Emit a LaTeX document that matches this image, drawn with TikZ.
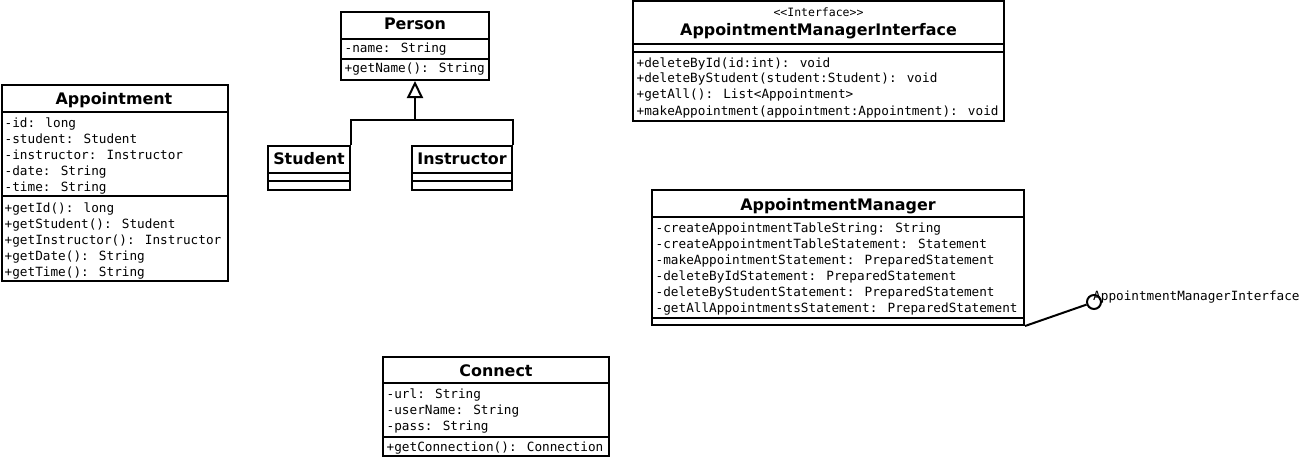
\documentclass[tikz,border=0pt]{standalone}
\usepackage{fontspec}
\setmainfont{DejaVu Sans}
\newfontfamily\monof{DejaVu Sans Mono}
\usetikzlibrary{arrows.meta}
\tikzset{
  cls/.style={draw, line width=2pt, inner sep=0pt, anchor=north west, fill=white},
  sepline/.style={line width=2pt},
  ttl/.style={anchor=base, inner sep=0pt, font=\bfseries\fontsize{15.9}{19}\selectfont},
  mem/.style={anchor=base west, inner sep=0pt, font=\monof\fontsize{12.7}{16}\selectfont},
  stereo/.style={anchor=base, inner sep=0pt, font=\monof\fontsize{11.5}{14}\selectfont},
  conn/.style={line width=2pt},
  gen/.style={conn, -{Triangle[open, length=17pt, width=16pt, line width=2pt]}},
  lolly/.style={circle, draw, line width=2pt, minimum size=14pt, inner sep=0pt, fill=white}
}
\begin{document}
\begin{tikzpicture}[x=1pt, y=-1pt]
\useasboundingbox (0,0) rectangle (1304,460);
\fill[white] (0,0) rectangle (1304,460);

% Appointment
\node[cls, minimum width=226pt, minimum height=196pt] (appt) at (1,84) {};
\draw[sepline] (appt.west |- 0,112) -- (appt.east |- 0,112);
\draw[sepline] (appt.west |- 0,196) -- (appt.east |- 0,196);
\node[ttl] (appt-t) at (114,104) {Appointment};
\node[mem] (appt-a1) at (4.5,127) {-id: long};
\node[mem] (appt-a2) at (4.5,143) {-student: Student};
\node[mem] (appt-a3) at (4.5,159) {-instructor: Instructor};
\node[mem] (appt-a4) at (4.5,175) {-date: String};
\node[mem] (appt-a5) at (4.5,191) {-time: String};
\node[mem] (appt-m1) at (4.5,212) {+getId(): long};
\node[mem] (appt-m2) at (4.5,228) {+getStudent(): Student};
\node[mem] (appt-m3) at (4.5,244) {+getInstructor(): Instructor};
\node[mem] (appt-m4) at (4.5,260) {+getDate(): String};
\node[mem] (appt-m5) at (4.5,276) {+getTime(): String};

% Person
\node[cls, minimum width=148pt, minimum height=68pt] (person) at (340,11) {};
\draw[sepline] (person.west |- 0,39) -- (person.east |- 0,39);
\draw[sepline] (person.west |- 0,59) -- (person.east |- 0,59);
\node[ttl] (person-t) at (415,30) {Person};
\node[mem] (person-a1) at (344.5,53) {-name: String};
\node[mem] (person-m1) at (344.5,73) {+getName(): String};

% Student
\node[cls, minimum width=82pt, minimum height=44pt] (stu) at (267,145) {};
\draw[sepline] (stu.west |- 0,173) -- (stu.east |- 0,173);
\draw[sepline] (stu.west |- 0,181) -- (stu.east |- 0,181);
\node[ttl] (stu-t) at (309,164) {Student};

% Instructor
\node[cls, minimum width=100pt, minimum height=44pt] (inst) at (411,145) {};
\draw[sepline] (inst.west |- 0,173) -- (inst.east |- 0,173);
\draw[sepline] (inst.west |- 0,181) -- (inst.east |- 0,181);
\node[ttl] (inst-t) at (462,164) {Instructor};

% Generalization
\coordinate (gj) at (person.south |- 0,120);
\draw[conn] (stu.north east) |- (gj);
\draw[conn] (inst.north east) |- (gj);
\draw[gen] (gj) -- (person.south);

% AppointmentManagerInterface
\node[cls, minimum width=371pt, minimum height=120pt] (ami) at (632,0) {};
\draw[sepline] (ami.west |- 0,44) -- (ami.east |- 0,44);
\draw[sepline] (ami.west |- 0,52) -- (ami.east |- 0,52);
\node[stereo] (ami-s) at (818.5,17) {<{}<Interface>{}>};
\node[ttl] (ami-t) at (818.5,36) {AppointmentManagerInterface};
\node[mem] (ami-m1) at (636.5,67) {+deleteById(id:int): void};
\node[mem] (ami-m2) at (636.5,83) {+deleteByStudent(student:Student): void};
\node[mem] (ami-m3) at (636.5,99) {+getAll(): List<Appointment>};
\node[mem] (ami-m4) at (636.5,115) {+makeAppointment(appointment:Appointment): void};

% AppointmentManager
\node[cls, minimum width=372pt, minimum height=135pt] (mgr) at (651,189) {};
\draw[sepline] (mgr.west |- 0,217) -- (mgr.east |- 0,217);
\draw[sepline] (mgr.west |- 0,318) -- (mgr.east |- 0,318);
\node[ttl] (mgr-t) at (838,210) {AppointmentManager};
\node[mem] (mgr-a1) at (655.5,232) {-createAppointmentTableString: String};
\node[mem] (mgr-a2) at (655.5,248) {-createAppointmentTableStatement: Statement};
\node[mem] (mgr-a3) at (655.5,264) {-makeAppointmentStatement: PreparedStatement};
\node[mem] (mgr-a4) at (655.5,280) {-deleteByIdStatement: PreparedStatement};
\node[mem] (mgr-a5) at (655.5,296) {-deleteByStudentStatement: PreparedStatement};
\node[mem] (mgr-a6) at (655.5,312) {-getAllAppointmentsStatement: PreparedStatement};

% Lollipop
\node[lolly] (lol) at (1094,302) {};
\draw[conn] (mgr.south east) -- (lol);
\node[mem] (lol-l) at (1093,300) {AppointmentManagerInterface};

% Connect
\node[cls, minimum width=226pt, minimum height=99pt] (con) at (382,356) {};
\draw[sepline] (con.west |- 0,383) -- (con.east |- 0,383);
\draw[sepline] (con.west |- 0,437) -- (con.east |- 0,437);
\node[ttl] (con-t) at (496,376) {Connect};
\node[mem] (con-a1) at (386.5,398) {-url: String};
\node[mem] (con-a2) at (386.5,414) {-userName: String};
\node[mem] (con-a3) at (386.5,430) {-pass: String};
\node[mem] (con-m1) at (386.5,451) {+getConnection(): Connection};
\end{tikzpicture}
\end{document}
